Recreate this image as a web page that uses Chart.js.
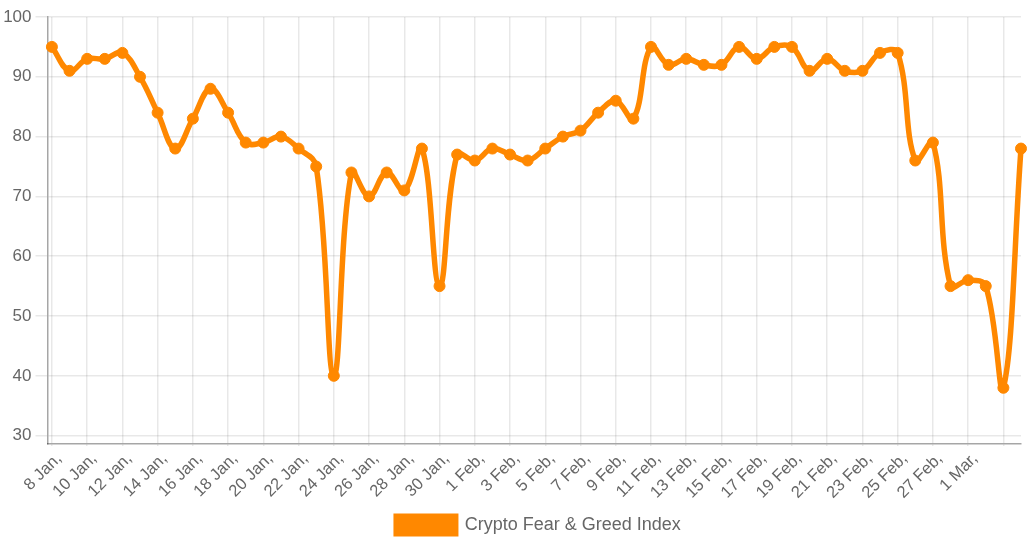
<!DOCTYPE html>
<html>
<head>
<meta charset="utf-8">
<style>
    html, body { margin: 0; padding: 0; background: #fff; }
    #wrap { width: 1030px; height: 545px; position: relative; }
</style>
<script src="https://cdn.jsdelivr.net/npm/chart.js@4/dist/chart.umd.min.js"></script>
</head>
<body>
<div id="wrap"><canvas id="mainChart"></canvas></div>
<script>
'use strict';

const seriesName = 'Crypto Fear & Greed Index';

const dayLabels = [
    '8 Jan,', '9 Jan,', '10 Jan,', '11 Jan,', '12 Jan,', '13 Jan,', '14 Jan,', '15 Jan,',
    '16 Jan,', '17 Jan,', '18 Jan,', '19 Jan,', '20 Jan,', '21 Jan,', '22 Jan,', '23 Jan,',
    '24 Jan,', '25 Jan,', '26 Jan,', '27 Jan,', '28 Jan,', '29 Jan,', '30 Jan,', '31 Jan,',
    '1 Feb,', '2 Feb,', '3 Feb,', '4 Feb,', '5 Feb,', '6 Feb,', '7 Feb,', '8 Feb,',
    '9 Feb,', '10 Feb,', '11 Feb,', '12 Feb,', '13 Feb,', '14 Feb,', '15 Feb,', '16 Feb,',
    '17 Feb,', '18 Feb,', '19 Feb,', '20 Feb,', '21 Feb,', '22 Feb,', '23 Feb,', '24 Feb,',
    '25 Feb,', '26 Feb,', '27 Feb,', '28 Feb,', '1 Mar,', '', '', '',
];

const indexValues = [
    95, 91, 93, 93, 94, 90, 84, 78, 83, 88, 84, 79, 79, 80, 78, 75,
    40, 74, 70, 74, 71, 78, 55, 77, 76, 78, 77, 76, 78, 80, 81, 84,
    86, 83, 95, 92, 93, 92, 92, 95, 93, 95, 95, 91, 93, 91, 91, 94,
    94, 76, 79, 55, 56, 55, 38, 78,
];

const yTickValues = [30, 40, 50, 60, 70, 80, 90, 100];

const ORANGE = '#ff8800';
const GRID = 'rgba(0,0,0,.09)';
const AXIS = 'rgba(0,0,0,.35)';
const TEXT = '#666';
const FAMILY = '"Liberation Sans", Arial, sans-serif';

// legend sits right of the canvas centre in the original
const legendShift = {
    id: 'legendShift',
    afterLayout(chart) {
        chart.legend.left += 28;
        chart.legend.right += 28;
    }
};

new Chart(document.getElementById('mainChart').getContext('2d'), {
    type: 'line',
    plugins: [legendShift],
    data: {
        datasets: [{
            label: seriesName,
            data: indexValues.map((y, x) => ({ x, y })),
            borderColor: ORANGE,
            backgroundColor: ORANGE,
            borderWidth: 5.5,
            pointRadius: 5.5,
            pointBackgroundColor: ORANGE,
            pointBorderColor: ORANGE,
            pointBorderWidth: 1,
            fill: false,
            tension: 0.4,
            clip: false,
        }]
    },
    options: {
        responsive: true,
        maintainAspectRatio: false,
        animation: false,
        layout: { padding: { top: 17, right: 9, left: 0, bottom: 1 } },
        plugins: {
            tooltip: { enabled: false },
            legend: {
                position: 'bottom',
                labels: {
                    color: TEXT, boxWidth: 59.5, boxHeight: 17.5, padding: 6,
                    font: { size: 18, family: FAMILY }
                }
            }
        },
        scales: {
            x: {
                type: 'linear',
                min: -0.25,
                max: 55,
                afterBuildTicks: axis => {
                    axis.ticks = dayLabels
                        .map((_, i) => ({ value: i }))
                        .filter(t => t.value % 2 === 0);
                },
                afterFit: axis => { axis.height = 66; },
                ticks: {
                    autoSkip: false,
                    minRotation: 45,
                    maxRotation: 45,
                    color: TEXT,
                    labelOffset: 7,
                    font: { size: 16.5, family: FAMILY },
                    callback: v => dayLabels[v],
                },
                grid: { color: GRID, lineWidth: 1.5, tickLength: 2 },
                border: { color: AXIS, width: 1.5 },
            },
            y: {
                min: 28.6,
                max: 100,
                afterBuildTicks: axis => {
                    axis.ticks = yTickValues.map(value => ({ value }));
                },
                afterFit: axis => { axis.width = 47.5; },
                ticks: {
                    color: TEXT,
                    padding: 4,
                    font: { size: 17, family: FAMILY },
                },
                grid: { color: GRID, lineWidth: 1.5, tickLength: 12 },
                border: { color: AXIS, width: 1.5 },
            }
        }
    }
});
</script>
</body>
</html>
